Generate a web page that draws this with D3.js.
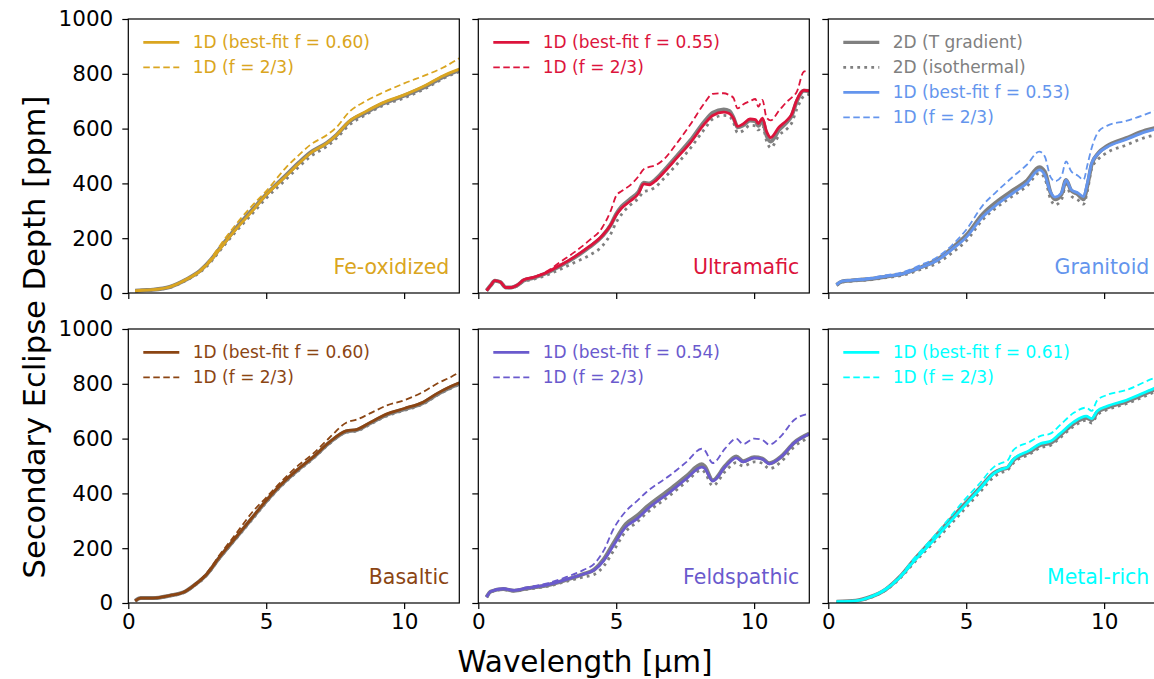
<!DOCTYPE html>
<html><head><meta charset="utf-8">
<script src="https://cdn.jsdelivr.net/npm/d3@7"></script>
<style>body{margin:0;background:#fff;} text{font-family:"DejaVu Sans",sans-serif;}</style>
</head><body><svg id="c" width="1154" height="679"></svg>
<script>
// ---- data ----
const xTicks = [0, 5, 10];
const yTicks = [0, 200, 400, 600, 800, 1000];
const materials = ["Fe-oxidized", "Ultramafic", "Granitoid", "Basaltic", "Feldspathic", "Metal-rich"];
const colors = ["#DAA520", "#DC143C", "#6495ED", "#8B4513", "#6A5ACD", "#00FFFF"];
const bestF = ["0.60", "0.55", "0.53", "0.60", "0.54", "0.61"];

// Fe-oxidized
const feWl   = [0.25,0.5,0.9,1.5,2.1,2.6,3.0,3.3,3.9,4.5,5.0,5.7,6.2,6.6,7.2,7.55,8.0,8.6,9.2,10.0,10.8,11.4,12.0];
const feBest = [8,10,12,22,49,80,120,158,232,300,358,425,474,510,547,577,626,662,693,723,759,792,817];
const feF23  = [8,10,12,22,50,83,126,170,250,320,372,456,505,541,577,605,660,700,730,765,796,822,857];
const feTg   = [8,10,12,22,49,81,122,161,236,304,360,428,477,512,548,577,624,658,690,720,755,788,813];
const feIso  = [7,9,11,20,46,76,114,152,224,290,346,413,462,498,535,565,612,650,683,712,748,782,808];

// Ultramafic
const umWl   = [0.3,0.45,0.6,0.8,1.0,1.2,1.4,1.65,2.0,2.5,3.0,3.5,4.0,4.5,4.8,5.0,5.2,5.5,5.8,6.0,6.2,6.4,6.7,7.2,7.7,8.2,8.5,8.9,9.1,9.25,9.4,9.6,9.85,10.05,10.15,10.3,10.45,10.6,10.9,11.2,11.35,11.55,11.8,12.0];
const umBest = [9,28,45,40,20,20,28,48,57,76,103,133,168,210,248,285,310,335,362,398,395,407,437,493,550,617,648,660,655,638,608,617,635,633,618,638,590,567,605,632,650,705,740,738];
const umF23  = [9,28,45,40,20,20,28,48,58,80,115,150,190,240,300,355,372,393,425,452,460,465,485,547,617,693,727,729,722,712,674,688,700,708,680,705,640,630,665,699,712,735,808,812];
const umTg   = [9,28,45,40,20,20,27,46,55,74,100,130,165,208,248,288,316,342,368,402,400,412,443,500,558,626,658,670,664,640,605,612,630,628,610,630,575,553,595,625,645,700,738,737];
const umIso  = [8,26,43,38,19,19,25,42,50,66,88,112,136,172,215,258,288,320,345,370,375,385,415,470,530,598,635,648,645,622,585,592,612,610,595,612,555,530,575,600,618,672,718,725];

// Granitoid
const grWl   = [0.3,0.5,0.8,1.4,2.1,2.7,3.3,4.0,4.5,5.0,5.6,6.1,6.7,7.2,7.65,7.85,8.05,8.22,8.45,8.62,8.8,9.05,9.25,9.4,9.55,9.8,10.1,10.8,11.5,12.0];
const grBest = [30,43,46,51,61,70,91,122,160,203,278,322,365,401,449,430,370,350,365,412,378,365,352,405,474,510,532,560,588,601];
const grF23  = [30,44,48,54,65,76,100,134,176,231,320,370,425,468,516,498,425,408,425,480,445,428,413,470,530,590,610,628,652,672];
const grTg   = [30,42,45,50,60,70,92,125,165,210,288,332,375,410,459,442,368,342,360,412,375,360,342,395,470,512,536,565,593,606];
const grIso  = [27,40,43,47,56,65,84,112,148,190,268,312,355,390,437,418,345,322,340,395,355,340,324,375,455,490,512,540,568,580];

// Basaltic
const baWl   = [0.25,0.45,0.9,1.5,2.0,2.35,2.85,3.3,3.9,4.5,5.0,5.5,6.1,6.7,7.3,7.9,8.3,8.8,9.4,10.0,10.7,11.2,11.7,12.0];
const baBest = [8,18,18,27,39,62,106,167,240,313,374,429,484,533,588,628,634,661,691,710,734,765,791,804];
const baF23  = [8,18,18,27,40,64,110,174,252,332,385,438,497,545,604,658,670,694,722,740,771,801,825,842];
const baTg   = [8,18,18,27,39,62,105,165,238,311,372,427,482,531,586,626,632,658,688,707,731,762,788,801];
const baIso  = [7,17,17,25,37,59,102,162,234,306,367,422,477,527,582,623,628,654,684,703,727,758,784,797];

// Feldspathic
const fsWl   = [0.3,0.45,0.9,1.3,1.75,2.5,3.2,3.8,4.2,4.55,4.9,5.35,5.75,6.1,6.95,7.55,8.1,8.2,8.5,8.95,9.35,9.6,10.0,10.3,10.55,11.0,11.45,12.0];
const fsBest = [22,42,52,46,54,66,86,105,120,155,210,278,307,340,405,454,496,492,445,497,530,515,530,525,508,535,584,617];
const fsF23  = [22,43,53,48,57,72,95,120,143,192,270,335,372,405,466,515,563,558,511,564,600,580,600,595,578,612,668,691];
const fsTg   = [22,42,51,45,53,65,85,105,122,160,218,288,318,350,415,463,506,500,448,500,535,517,532,527,510,536,585,618];
const fsIso  = [20,40,49,43,50,61,79,95,104,135,190,262,295,328,393,443,485,478,428,480,512,500,515,510,490,518,570,603];

// Metal-rich
const mrWl   = [0.3,1.0,1.5,2.1,2.6,3.1,3.7,4.3,4.9,5.5,6.0,6.25,6.5,6.7,7.3,7.7,8.05,8.4,8.9,9.35,9.55,9.75,10.1,10.8,11.8,12.0];
const mrBest = [5,8,21,51,94,152,216,283,350,417,472,487,496,523,557,582,590,618,661,682,673,701,718,740,783,791];
const mrF23  = [5,8,21,53,98,161,228,299,372,438,496,510,520,557,588,610,618,649,694,713,701,740,759,777,820,826];
const mrTg   = [5,8,21,51,96,156,222,290,356,420,474,487,494,520,552,577,584,612,655,676,668,696,713,735,778,786];
const mrIso  = [4,7,19,48,90,146,208,272,338,405,460,475,485,510,543,567,575,603,645,667,657,686,705,727,770,780];

const panelData = [
  {wl: feWl, best: feBest, f23: feF23, tg: feTg, iso: feIso},
  {wl: umWl, best: umBest, f23: umF23, tg: umTg, iso: umIso},
  {wl: grWl, best: grBest, f23: grF23, tg: grTg, iso: grIso},
  {wl: baWl, best: baBest, f23: baF23, tg: baTg, iso: baIso},
  {wl: fsWl, best: fsBest, f23: fsF23, tg: fsTg, iso: fsIso},
  {wl: mrWl, best: mrBest, f23: mrF23, tg: mrTg, iso: mrIso}
];

// ---- layout ----
const svg = d3.select("#c");
const colLeft = [128.3, 478.3, 828.3];
const rowTop = [19, 329];
const W = 331, H = 274;
const gray = "#808080";

const x = d3.scaleLinear().domain([0, 12]).range([0, W]);
const y = d3.scaleLinear().domain([0, 1000]).range([H, 0]);

materials.forEach((name, i) => {
  const col = i % 3, row = Math.floor(i / 3);
  const g = svg.append("g").attr("transform", `translate(${colLeft[col]},${rowTop[row]})`);
  const d = panelData[i];
  const c = colors[i];

  g.append("clipPath").attr("id", "clip" + i).append("rect").attr("width", W).attr("height", H);
  const plot = g.append("g").attr("clip-path", `url(#clip${i})`);
  const line = arr => d3.line().x((v, k) => x(d.wl[k])).y(v => y(v)).curve(d3.curveMonotoneX)(arr);

  plot.append("path").attr("d", line(d.tg)).attr("fill", "none").attr("stroke", gray).attr("stroke-width", 4);
  plot.append("path").attr("d", line(d.iso)).attr("fill", "none").attr("stroke", gray).attr("stroke-width", 2.8).attr("stroke-dasharray", "2.8,4.2");
  plot.append("path").attr("d", line(d.best)).attr("fill", "none").attr("stroke", c).attr("stroke-width", 2.8);
  plot.append("path").attr("d", line(d.f23)).attr("fill", "none").attr("stroke", c).attr("stroke-width", 1.8).attr("stroke-dasharray", "6.5,3.5");

  // axes
  const xa = d3.axisBottom(x).tickValues(xTicks).tickSize(6).tickPadding(5).tickFormat(row === 1 ? d3.format("d") : () => "");
  const ya = d3.axisLeft(y).tickValues(yTicks).tickSize(6).tickPadding(9).tickFormat(col === 0 ? d3.format("d") : () => "");
  const gx = g.append("g").attr("transform", `translate(0,${H})`).call(xa);
  const gy = g.append("g").call(ya);
  [gx, gy].forEach(a => {
    a.select(".domain").remove();
    a.selectAll("line").attr("stroke", "#000").attr("stroke-width", 1.2);
    a.selectAll("text").attr("fill", "#000").style("font-size", "21.5px").style("font-family", "DejaVu Sans");
  });
  g.append("rect").attr("width", W).attr("height", H).attr("fill", "none").attr("stroke", "#000").attr("stroke-width", 1.2);

  // panel label
  g.append("text").attr("x", W * 0.97).attr("y", H - H * 0.05 - 5)
    .attr("text-anchor", "end").attr("fill", c).style("font-size", "20.5px").text(name);

  // legend
  const entries = [];
  if (i === 2) {
    entries.push({label: "2D (T gradient)", color: gray, w: 3.2, dash: null});
    entries.push({label: "2D (isothermal)", color: gray, w: 2.8, dash: "2.8,4.2"});
  }
  entries.push({label: `1D (best-fit f = ${bestF[i]})`, color: c, w: 2.8, dash: null});
  entries.push({label: "1D (f = 2/3)", color: c, w: 1.8, dash: "6.5,3.5"});
  entries.forEach((e, k) => {
    const yy = 23.3 + k * 25;
    g.append("line").attr("x1", 15).attr("x2", 51).attr("y1", yy).attr("y2", yy)
      .attr("stroke", e.color).attr("stroke-width", e.w).attr("stroke-dasharray", e.dash);
    g.append("text").attr("x", 64.5).attr("y", yy).attr("dy", "0.36em")
      .attr("fill", e.color).style("font-size", "17px").text(e.label);
  });
});

// axis titles
svg.append("text").attr("x", 585).attr("y", 672).attr("text-anchor", "middle")
  .style("font-size", "29.5px").attr("fill", "#000").text("Wavelength [μm]");
svg.append("text").attr("transform", "translate(34,337) rotate(-90)").attr("dy", "0.36em")
  .attr("text-anchor", "middle").style("font-size", "30.5px").attr("fill", "#000").text("Secondary Eclipse Depth [ppm]");
</script>
</body></html>
